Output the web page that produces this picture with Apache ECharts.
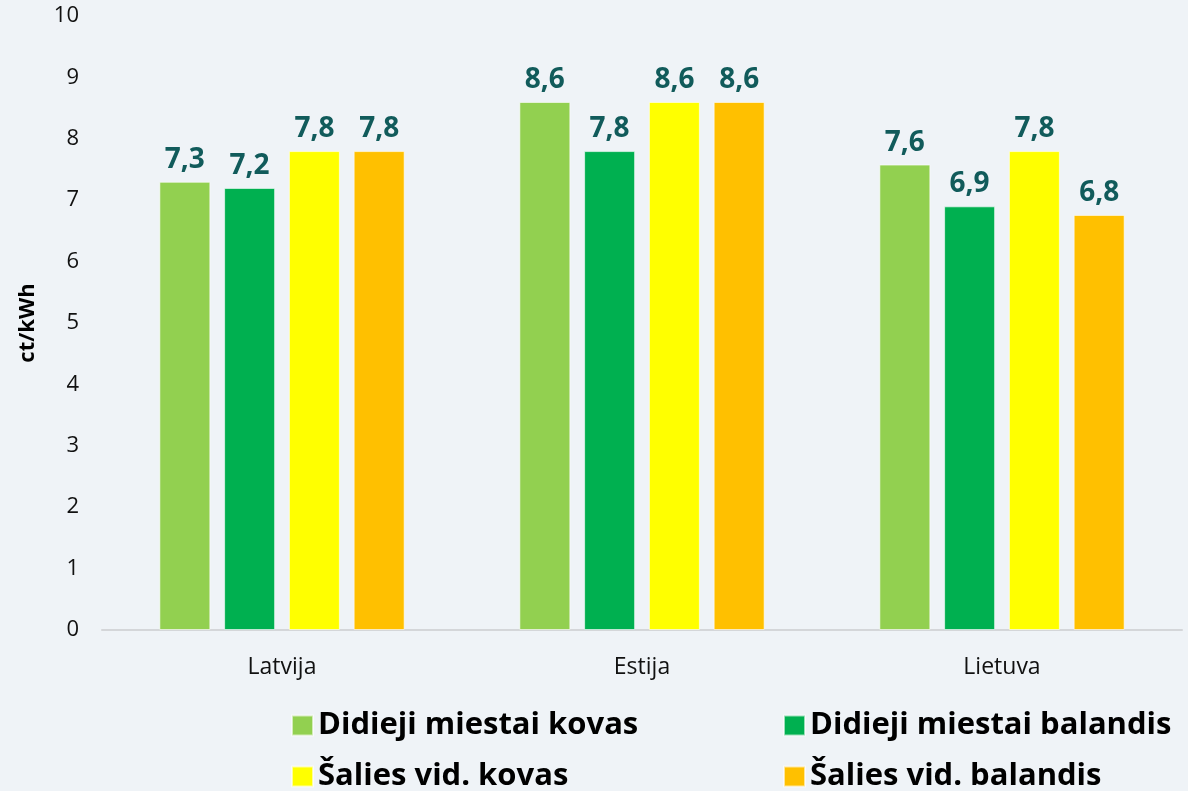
<!DOCTYPE html>
<html>
<head>
<meta charset="utf-8">
<script src="https://cdn.jsdelivr.net/npm/echarts@6/dist/echarts.min.js"></script>
<style>
  html, body { margin: 0; padding: 0; background: #eff3f7; }
  #chart { width: 1188px; height: 791px; }
</style>
</head>
<body>
<div id="chart"></div>
<script>
const countries = ['Latvija', 'Estija', 'Lietuva']
const seriesNames = ['Didieji miestai kovas', 'Didieji miestai balandis', 'Šalies vid. kovas', 'Šalies vid. balandis']
const citiesMarch = [7.3, 8.6, 7.58]
const citiesApril = [7.2, 7.8, 6.9]
const countryMarch = [7.8, 8.6, 7.8]
const countryApril = [7.8, 8.6, 6.76]
const colors = ['#92d050', '#00b050', '#ffff00', '#ffc000']

const font = '"Open Sans", sans-serif'
const values = [citiesMarch, citiesApril, countryMarch, countryApril]

// legend placement: [left, top] for each series
const legendSpots = [[291, 710], [783, 710], [291, 761], [783, 761]]

const chart = echarts.init(document.getElementById('chart'))
chart.setOption({
  backgroundColor: '#eff3f7',
  textStyle: { fontFamily: font },
  grid: { left: 102, right: 6, top: 16, bottom: 161 },
  xAxis: {
    type: 'category',
    data: countries,
    axisLine: { lineStyle: { color: '#d4d6d9', width: 2 } },
    axisTick: { show: false },
    axisLabel: { color: '#111', fontSize: 23, margin: 26, fontFamily: font }
  },
  yAxis: {
    type: 'value',
    min: 0,
    max: 10,
    interval: 1,
    name: 'ct/kWh',
    nameLocation: 'middle',
    nameGap: 63,
    nameTextStyle: { color: '#000', fontSize: 22, fontWeight: 'bold', fontFamily: font },
    splitLine: { show: false },
    axisLabel: { color: '#111', fontSize: 22, margin: 23, fontFamily: font }
  },
  legend: seriesNames.map((name, i) => ({
    data: [name],
    left: legendSpots[i][0],
    top: legendSpots[i][1],
    padding: 0,
    itemWidth: 21,
    itemHeight: 20,
    itemGap: 0,
    icon: 'rect',
    textStyle: { fontSize: 31, fontWeight: 'bold', color: '#000', fontFamily: font }
  })),
  series: seriesNames.map((name, i) => ({
    name: name,
    type: 'bar',
    data: values[i],
    barWidth: 51,
    barGap: '27%',
    itemStyle: { color: colors[i], borderColor: 'rgba(255,255,255,0.6)', borderWidth: 1 },
    label: {
      show: true,
      position: 'top',
      distance: 8,
      color: '#115b5b',
      fontSize: 28,
      fontWeight: 'bold',
      fontFamily: font,
      formatter: p => p.value.toFixed(1).replace('.', ',')
    }
  }))
})
</script>
</body>
</html>
